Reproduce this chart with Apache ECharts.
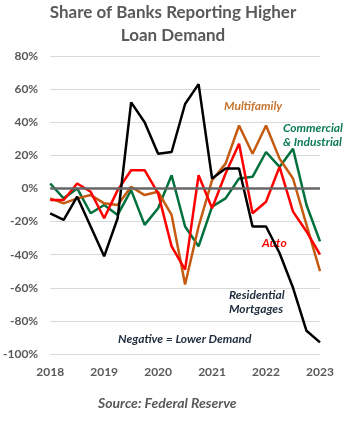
<!DOCTYPE html>
<html>
<head>
<meta charset="utf-8">
<script src="https://cdn.jsdelivr.net/npm/echarts@6/dist/echarts.min.js"></script>
<style>
html,body{margin:0;padding:0;background:#fff;}
#chart{width:359px;height:430px;}
</style>
</head>
<body>
<div id="chart"></div>
<script>
var quarters = ['2018 Q1','2018 Q2','2018 Q3','2018 Q4','2019 Q1','2019 Q2','2019 Q3','2019 Q4','2020 Q1','2020 Q2','2020 Q3','2020 Q4','2021 Q1','2021 Q2','2021 Q3','2021 Q4','2022 Q1','2022 Q2','2022 Q3','2022 Q4','2023 Q1'];
var residential = [-15, -19, -5, -23, -41, -18, 52, 40, 21, 22, 51, 63, 6, 12, 12, -23, -23, -39, -60, -86, -93];
var multifamily = [-6, -9, -6, -4, -9, -10, 1, -4, -2, -16, -58, -23, 5, 15, 38, 21, 38, 18, 6, -22, -50];
var commercial = [3, -6, 0, -15, -10, -16, -1, -22, -12, 8, -23, -35, -11, -6, 6, 7, 22, 13, 24, -10, -32];
var auto = [-7, -7, 3, -2, -18, -1, 11, 11, -3, -35, -49, 8, -12, 9, 27, -15, -8, 13, -14, -26, -40];
var yTicks = [-100, 80, 20];

var chart = echarts.init(document.getElementById('chart'));
var grey = '#595959';
var FONT = 'Lato';
function lineSeries(name, data, color) {
  return {
    name: name, type: 'line', data: data, symbol: 'none', z: 3,
    lineStyle: {color: color, width: 2.5}, itemStyle: {color: color}
  };
}
var boldItalic = {fontFamily: FONT, fontStyle: 'italic', fontWeight: 'bold', fontSize: 12};
chart.setOption({
  animation: false,
  backgroundColor: '#fff',
  title: {
    text: 'Share of Banks Reporting Higher\nLoan Demand',
    left: 168, top: -4, textAlign: 'center',
    textStyle: {fontFamily: FONT, fontWeight: 'bold', fontSize: 17, color: grey, lineHeight: 23}
  },
  grid: {left: 48, right: 39, top: 56, bottom: 76},
  xAxis: {
    type: 'category', data: quarters, boundaryGap: false,
    axisLine: {show: false}, axisTick: {show: false},
    axisLabel: {interval: 3, margin: 12, color: grey, fontWeight: 'bold', fontSize: 12, fontFamily: FONT,
      formatter: function (v) { return v.slice(0, 4); }},
    splitLine: {show: false}
  },
  yAxis: {
    type: 'value', min: yTicks[0], max: yTicks[1], interval: yTicks[2],
    axisLine: {show: false}, axisTick: {show: false},
    axisLabel: {margin: 12, color: grey, fontWeight: 'bold', fontSize: 12, fontFamily: FONT, formatter: '{value}%'},
    splitLine: {lineStyle: {color: '#d9d9d9', width: 1}}
  },
  series: [
    {
      type: 'line', data: [], z: 2,
      markLine: {silent: true, symbol: 'none', label: {show: false},
        lineStyle: {color: '#666666', width: 2.5, type: 'solid'},
        data: [{yAxis: 0}]}
    },
    lineSeries('Commercial & Industrial', commercial, '#00703C'),
    lineSeries('Multifamily', multifamily, '#C55A11'),
    lineSeries('Auto', auto, '#FF0000'),
    lineSeries('Residential Mortgages', residential, '#000000')
  ],
  graphic: [
    {type: 'text', left: 224, top: 100, style: Object.assign({text: 'Multifamily', fill: '#C8742F'}, boldItalic)},
    {type: 'text', left: 283, top: 121, style: Object.assign({text: 'Commercial\n& Industrial', fill: '#0E7A5A', lineHeight: 14}, boldItalic)},
    {type: 'text', left: 262, top: 237, style: Object.assign({text: 'Auto', fill: '#FF0000'}, boldItalic)},
    {type: 'text', left: 229, top: 288, style: Object.assign({text: 'Residential\nMortgages', fill: '#1F2D3D', lineHeight: 14}, boldItalic)},
    {type: 'text', left: 118, top: 333, style: Object.assign({text: 'Negative = Lower Demand', fill: '#1F2D3D'}, boldItalic)},
    {type: 'text', left: 98, top: 396, style: {text: 'Source: Federal Reserve', fill: grey, fontFamily: FONT, fontStyle: 'italic', fontWeight: 'bold', fontSize: 14}}
  ]
});
</script>
</body>
</html>
